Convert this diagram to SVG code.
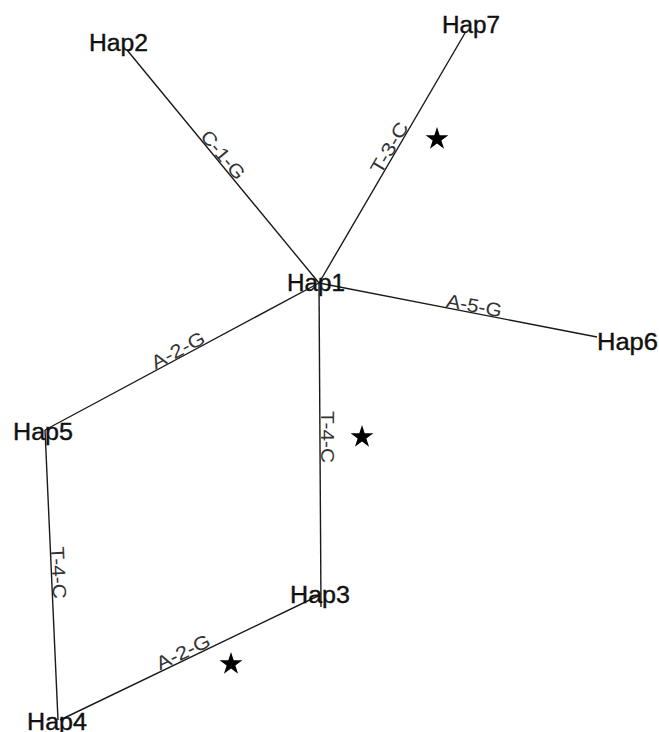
<svg xmlns="http://www.w3.org/2000/svg" width="659" height="732" viewBox="0 0 659 732">
<style>
.edge{stroke:#1a1a1a;stroke-width:1.4;fill:none}
.node{font-family:"Liberation Sans",Arial,sans-serif;font-size:23px;fill:#111;stroke:#111;stroke-width:0.4}
.lbl{font-family:"Liberation Sans",Arial,sans-serif;font-size:19px;fill:#333;text-anchor:middle}
.star{fill:#000}
</style>
<defs>
<path id="star" d="M0,-12 L2.70,-3.72 L11.41,-3.71 L4.37,1.42 L7.05,9.71 L0,4.6 L-7.05,9.71 L-4.37,1.42 L-11.41,-3.71 L-2.70,-3.72 Z"/>
</defs>
<rect width="659" height="732" fill="#fff"/>
<g id="connectors">
<line class="edge" x1="127" y1="50" x2="319" y2="283"/>
<line class="edge" x1="465" y1="33" x2="319" y2="283"/>
<line class="edge" x1="319" y1="283" x2="597" y2="337"/>
<line class="edge" x1="319" y1="283" x2="45" y2="430"/>
<line class="edge" x1="319" y1="283" x2="321" y2="607"/>
<line class="edge" x1="45" y1="430" x2="58" y2="720"/>
<line class="edge" x1="320" y1="595" x2="60" y2="720"/>
<text class="lbl" transform="translate(218,159) rotate(50.5)" textLength="58" lengthAdjust="spacingAndGlyphs">C-1-G</text>
<text class="lbl" transform="translate(395,151) rotate(-59.7)" textLength="56" lengthAdjust="spacingAndGlyphs">T-3-C</text>
<text class="lbl" transform="translate(473,312) rotate(11)" textLength="56" lengthAdjust="spacingAndGlyphs">A-5-G</text>
<text class="lbl" transform="translate(181,356) rotate(-28.2)" textLength="58" lengthAdjust="spacingAndGlyphs">A-2-G</text>
<text class="lbl" transform="translate(321,437) rotate(90)" textLength="52" lengthAdjust="spacingAndGlyphs">T-4-C</text>
<text class="lbl" transform="translate(52,573) rotate(87.4)" textLength="52" lengthAdjust="spacingAndGlyphs">T-4-C</text>
<text class="lbl" transform="translate(186,658) rotate(-25.8)" textLength="58" lengthAdjust="spacingAndGlyphs">A-2-G</text>
<use href="#star" class="star" x="437" y="139"/>
<use href="#star" class="star" x="362" y="437"/>
<use href="#star" class="star" x="231" y="664"/>
</g>
<g id="Hap1"><text class="node" x="287" y="291" textLength="58" lengthAdjust="spacingAndGlyphs">Hap1</text></g>
<g id="Hap2"><text class="node" x="89" y="51" textLength="59" lengthAdjust="spacingAndGlyphs">Hap2</text></g>
<g id="Hap3"><text class="node" x="290" y="603" textLength="60" lengthAdjust="spacingAndGlyphs">Hap3</text></g>
<g id="Hap4"><text class="node" x="27" y="730" textLength="60" lengthAdjust="spacingAndGlyphs">Hap4</text></g>
<g id="Hap5"><text class="node" x="13" y="440" textLength="60" lengthAdjust="spacingAndGlyphs">Hap5</text></g>
<g id="Hap6"><text class="node" x="597" y="350" textLength="61" lengthAdjust="spacingAndGlyphs">Hap6</text></g>
<g id="Hap7"><text class="node" x="442" y="33" textLength="58" lengthAdjust="spacingAndGlyphs">Hap7</text></g>
</svg>
